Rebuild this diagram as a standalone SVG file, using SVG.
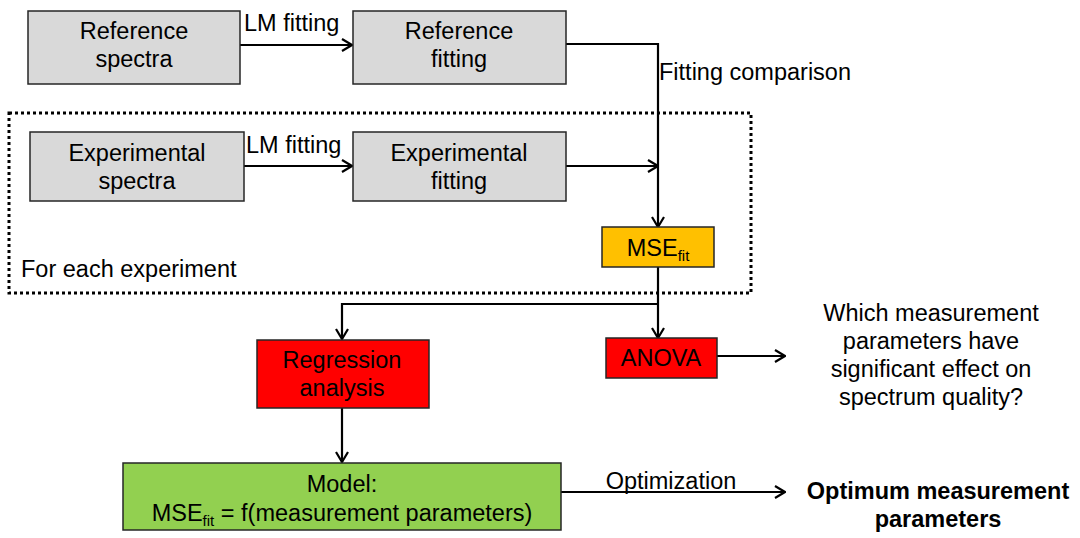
<svg xmlns="http://www.w3.org/2000/svg" width="1080" height="538" viewBox="0 0 1080 538">
<style>
text{font-family:"Liberation Sans",Arial,sans-serif;font-size:23.5px;fill:#000}
.c{text-anchor:middle}
.b{font-weight:bold}
.gray{fill:#d9d9d9;stroke:#262626;stroke-width:1.5}
.red{fill:#ff0000;stroke:#262626;stroke-width:1.5}
.org{fill:#ffc000;stroke:#262626;stroke-width:1.5}
.grn{fill:#92d050;stroke:#262626;stroke-width:1.5}
.ln{fill:none;stroke:#000;stroke-width:2.2}
.arr{marker-end:url(#ah)}
.sub{font-size:15px}
</style>
<defs>
<marker id="ah" viewBox="0 0 12 14" refX="11" refY="7" markerWidth="12" markerHeight="14" markerUnits="userSpaceOnUse" orient="auto">
<path d="M1 1 L11 7 L1 13" fill="none" stroke="#000" stroke-width="2.2"/>
</marker>
</defs>
<rect x="9" y="113" width="742" height="180" fill="none" stroke="#000" stroke-width="3" stroke-dasharray="3 3"/>
<text x="21" y="277">For each experiment</text>
<g id="connectors">
<path class="ln arr" d="M240 45 H352"/>
<path class="ln arr" d="M566 44 H658 V227"/>
<path class="ln arr" d="M244 166 H352"/>
<path class="ln arr" d="M566 166 H658"/>
<path class="ln arr" d="M658 267 V338"/>
<path class="ln arr" d="M658 304 H342 V339"/>
<path class="ln arr" d="M717 356 H785"/>
<path class="ln arr" d="M342 408 V462"/>
<path class="ln arr" d="M561 492 H785"/>
<text x="244" y="31">LM fitting</text>
<text x="246" y="153">LM fitting</text>
<text x="659" y="80">Fitting comparison</text>
<text class="c" x="671" y="489">Optimization</text>
</g>
<g id="ref-spectra"><rect class="gray" x="28" y="11" width="212" height="73"/><text class="c" x="134" y="39">Reference</text><text class="c" x="134" y="67">spectra</text></g>
<g id="ref-fitting"><rect class="gray" x="353" y="11" width="213" height="73"/><text class="c" x="459" y="39">Reference</text><text class="c" x="459" y="67">fitting</text></g>
<g id="exp-spectra"><rect class="gray" x="30" y="132" width="214" height="69"/><text class="c" x="137" y="161">Experimental</text><text class="c" x="137" y="189">spectra</text></g>
<g id="exp-fitting"><rect class="gray" x="353" y="132" width="213" height="69"/><text class="c" x="459" y="161">Experimental</text><text class="c" x="459" y="189">fitting</text></g>
<g id="mse"><rect class="org" x="602" y="227" width="112" height="40"/><text class="c" x="658" y="256">MSE<tspan class="sub" dy="5">fit</tspan></text></g>
<g id="regression"><rect class="red" x="257" y="340" width="172" height="68"/><text class="c" x="342" y="368">Regression</text><text class="c" x="342" y="396">analysis</text></g>
<g id="anova"><rect class="red" x="606" y="338" width="111" height="40"/><text class="c" x="661" y="366">ANOVA</text></g>
<g id="question"><text class="c" x="931" y="321">Which measurement</text><text class="c" x="931" y="349">parameters have</text><text class="c" x="931" y="377">significant effect on</text><text class="c" x="931" y="405">spectrum quality?</text></g>
<g id="model"><rect class="grn" x="123" y="463" width="438" height="67"/><text class="c" x="342" y="492">Model:</text><text class="c" x="342" y="521">MSE<tspan class="sub" dy="5">fit</tspan><tspan dy="-5"> = f(measurement parameters)</tspan></text></g>
<g id="optimum"><text class="c b" x="938" y="499">Optimum measurement</text><text class="c b" x="938" y="527">parameters</text></g>
</svg>
